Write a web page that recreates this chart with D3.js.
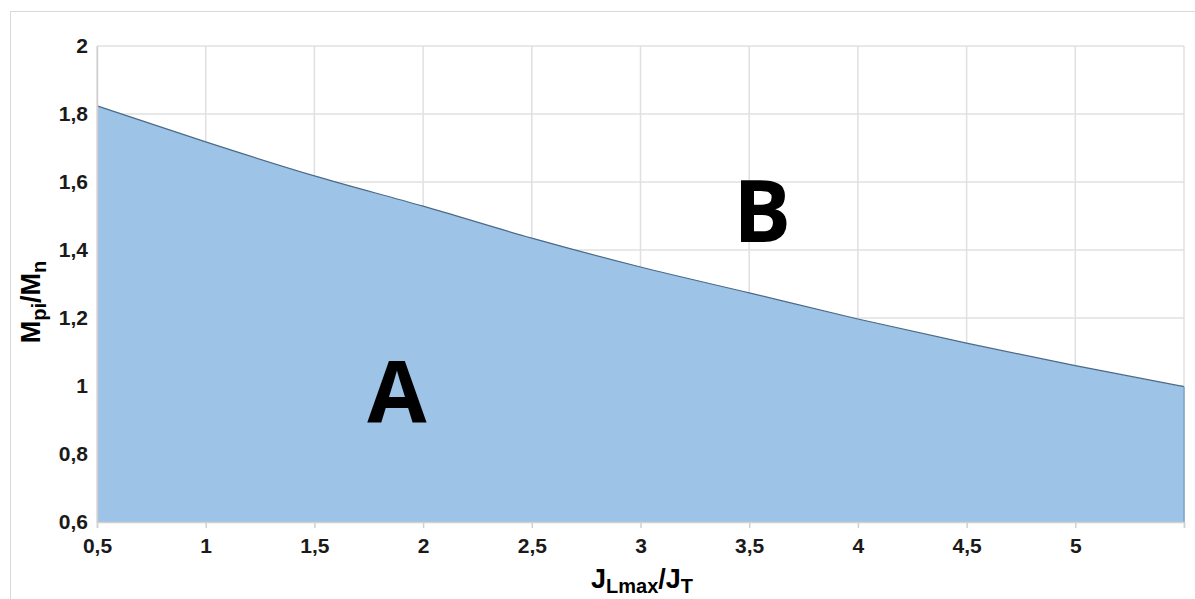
<!DOCTYPE html>
<html>
<head>
<meta charset="utf-8">
<script src="https://cdn.jsdelivr.net/npm/d3@7"></script>
<style>
  body { margin: 0; background: #fff; }
  .tick text { font-family: "Liberation Sans", Arial, sans-serif; font-weight: bold; fill: #1a1a1a; }
</style>
</head>
<body>
<div class="chart"></div>
<script>
// values
var ratioJ = [0.5, 1, 1.5, 2, 2.5, 3, 3.5, 4, 4.5, 5, 5.5];
var ratioM = [1.824, 1.718, 1.618, 1.529, 1.435, 1.350, 1.274, 1.197, 1.126, 1.060, 0.998];
var xTicks = [0.5, 1, 1.5, 2, 2.5, 3, 3.5, 4, 4.5, 5, 5.5];
var yTicks = [0.6, 0.8, 1, 1.2, 1.4, 1.6, 1.8, 2];
var regionLabels = [
    { text: "A", x: 1.88, y: 0.89 },
    { text: "B", x: 3.56, y: 1.425 }
];

var svgWidth = 1195;
var svgHeight = 599;
var margin = { top: 46, right: 11, bottom: 77, left: 97 };
var width = svgWidth - margin.left - margin.right;
var height = svgHeight - margin.top - margin.bottom;

var svg = d3.select(".chart")
    .append("svg")
    .attr("width", svgWidth)
    .attr("height", svgHeight);

// outer frame (runs off the right and bottom edges)
svg.append("rect")
    .attr("x", 10.5)
    .attr("y", 11.5)
    .attr("width", svgWidth)
    .attr("height", svgHeight)
    .attr("fill", "none")
    .attr("stroke", "#d9d9d9")
    .attr("stroke-width", 1);

var chartGroup = svg.append("g")
    .attr("transform", `translate(${margin.left}, ${margin.top})`);

var xScale = d3.scaleLinear().domain([0.5, 5.5]).range([0, width]);
var yScale = d3.scaleLinear().domain([0.6, 2]).range([height, 0]);

// grid
chartGroup.append("g")
    .selectAll("line")
    .data(xTicks)
    .enter()
    .append("line")
    .attr("x1", d => xScale(d)).attr("x2", d => xScale(d))
    .attr("y1", 0).attr("y2", height)
    .attr("stroke", "#e0e0e0")
    .attr("stroke-width", 1.5);

chartGroup.append("g")
    .selectAll("line")
    .data(yTicks)
    .enter()
    .append("line")
    .attr("x1", 0).attr("x2", width)
    .attr("y1", d => yScale(d)).attr("y2", d => yScale(d))
    .attr("stroke", "#e0e0e0")
    .attr("stroke-width", 1.5);

var pts = ratioJ.map((d, i) => ({ x: d, y: ratioM[i] }));

var area = d3.area()
    .x(d => xScale(d.x))
    .y0(height)
    .y1(d => yScale(d.y))
    .curve(d3.curveMonotoneX);

var line = d3.line()
    .x(d => xScale(d.x))
    .y(d => yScale(d.y))
    .curve(d3.curveMonotoneX);

chartGroup.append("path")
    .datum(pts)
    .attr("d", area)
    .attr("fill", "#9dc3e6");

chartGroup.append("path")
    .datum(pts)
    .attr("d", line)
    .attr("fill", "none")
    .attr("stroke", "#4a6a88")
    .attr("stroke-width", 1.2);

// right edge of the filled region
chartGroup.append("line")
    .attr("x1", xScale(5.5)).attr("x2", xScale(5.5))
    .attr("y1", yScale(ratioM[ratioM.length - 1])).attr("y2", height)
    .attr("stroke", "#7fa3c6")
    .attr("stroke-width", 1.5);

// axes
var fmt = d => String(d).replace(".", ",");

var bottomAxis = d3.axisBottom(xScale)
    .tickValues(xTicks)
    .tickSize(6)
    .tickPadding(10)
    .tickFormat(d => d === 5.5 ? "" : fmt(d));

var leftAxis = d3.axisLeft(yScale)
    .tickValues(yTicks)
    .tickSize(0)
    .tickPadding(9)
    .tickFormat(fmt);

var xAxisG = chartGroup.append("g")
    .attr("transform", `translate(0, ${height})`)
    .call(bottomAxis);
xAxisG.select(".domain").attr("stroke", "#d0d0d0").attr("stroke-width", 1.5);
xAxisG.selectAll(".tick line").attr("stroke", "#d0d0d0").attr("stroke-width", 1.5);
xAxisG.selectAll("text").style("font-size", "21px");

var yAxisG = chartGroup.append("g").call(leftAxis);
yAxisG.select(".domain").attr("stroke", "#d0d0d0").attr("stroke-width", 1.5);
yAxisG.selectAll("text").style("font-size", "21px");

// region letters
chartGroup.selectAll(".region")
    .data(regionLabels)
    .enter()
    .append("text")
    .attr("class", "region")
    .attr("x", d => xScale(d.x))
    .attr("y", d => yScale(d.y))
    .attr("text-anchor", "middle")
    .style("font-family", "'Open Sans', sans-serif")
    .style("font-weight", "bold")
    .style("font-size", "86px")
    .attr("fill", "#000")
    .text(d => d.text);

// axis titles
var xTitle = svg.append("text")
    .attr("x", 642)
    .attr("y", 588)
    .attr("text-anchor", "middle")
    .style("font-family", "'Liberation Sans', Arial, sans-serif")
    .style("font-weight", "bold")
    .style("font-size", "27px")
    .attr("fill", "#000");
xTitle.append("tspan").text("J");
xTitle.append("tspan").attr("dy", 5).style("font-size", "20px").text("Lmax");
xTitle.append("tspan").attr("dy", -5).text("/J");
xTitle.append("tspan").attr("dy", 5).style("font-size", "20px").text("T");

var yTitle = svg.append("text")
    .attr("transform", "translate(40, 302) rotate(-90)")
    .attr("text-anchor", "middle")
    .style("font-family", "'Liberation Sans', Arial, sans-serif")
    .style("font-weight", "bold")
    .style("font-size", "27px")
    .attr("fill", "#000");
yTitle.append("tspan").text("M");
yTitle.append("tspan").attr("dy", 6).style("font-size", "20px").text("pi");
yTitle.append("tspan").attr("dy", -6).text("/M");
yTitle.append("tspan").attr("dy", 6).style("font-size", "20px").text("n");
</script>
</body>
</html>
